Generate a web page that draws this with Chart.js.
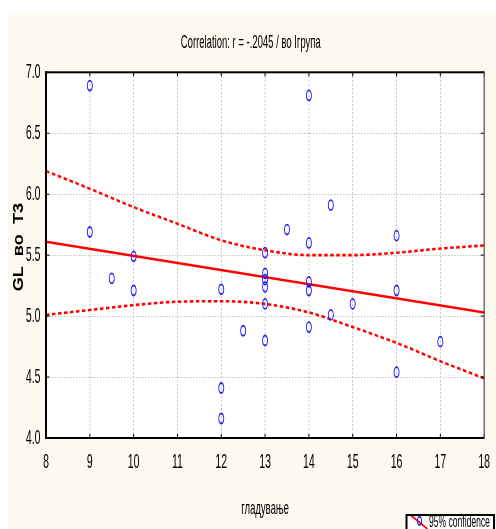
<!DOCTYPE html>
<html>
<head>
<meta charset="utf-8">
<script src="https://cdn.jsdelivr.net/npm/chart.js@4.4.1/dist/chart.umd.min.js"></script>
<style>
  html, body { margin: 0; padding: 0; background: #fff; }
</style>
</head>
<body>
<!-- drawn twice as wide, then squeezed to the page width -->
<canvas id="corrChart" width="992" height="529" style="display:block;width:496px;height:529px"></canvas>
<script>
// гладување (x) against GL во T3 (y), first group
const fastX = [9, 9, 9.5, 10, 10, 12, 12, 12, 12.5, 13, 13, 13, 13, 13, 13, 13.5, 14, 14, 14, 14, 14, 14.5, 14.5, 15, 16, 16, 16, 17];
const glY   = [6.89, 5.69, 5.31, 5.49, 5.21, 5.22, 4.41, 4.16, 4.88, 5.52, 5.35, 5.30, 5.24, 5.10, 4.80, 5.71, 6.81, 5.60, 5.28, 5.21, 4.91, 5.91, 5.01, 5.10, 5.66, 5.21, 4.54, 4.79];

// regression line end points
const fitX = [8, 18];
const fitY = [5.61, 5.03];

// 95% confidence band
const bandX     = [8, 9, 10, 11, 12, 13, 14, 15, 16, 17, 18];
const bandUpper = [6.19, 6.045, 5.894, 5.758, 5.622, 5.54, 5.50, 5.50, 5.52, 5.554, 5.58];
const bandLower = [5.01, 5.05, 5.09, 5.118, 5.122, 5.10, 5.03, 4.91, 4.78, 4.63, 4.49];

const xTicks = [8, 9, 10, 11, 12, 13, 14, 15, 16, 17, 18];
const yTicks = [4.0, 4.5, 5.0, 5.5, 6.0, 6.5, 7.0];

const chartTitle = 'Correlation: r = -.2045 / во Iгрупа';
const xTitle = 'гладување';
const yTitle = 'GL  во  T3';
const legendLabel = '95% confidence';

const FONT = '"Liberation Sans", Arial, sans-serif';
const BLUE = 'rgb(28,28,245)';
const RED = '#ff0000';

Chart.defaults.font.family = FONT;
Chart.defaults.color = '#000';

const toXY = (xs, ys) => xs.map((x, i) => ({x: x, y: ys[i]}));

// cream page, white plot area, frame, inward ticks, rotated y title, legend box
const statFrame = {
  id: 'statFrame',
  beforeDraw(chart) {
    const {ctx, chartArea: a} = chart;
    ctx.save();
    ctx.fillStyle = '#fdf9ee';
    ctx.fillRect(16, 13, chart.width - 16, chart.height - 13);
    ctx.fillStyle = '#fff';
    ctx.fillRect(a.left, a.top, a.right - a.left, a.bottom - a.top);
    ctx.restore();
  },
  afterDatasetsDraw(chart) {
    const {ctx, chartArea: a, scales} = chart;
    ctx.save();
    ctx.fillStyle = '#000';
    scales.x.ticks.forEach(t => {
      const px = scales.x.getPixelForValue(t.value);
      ctx.fillRect(px - 1, a.bottom - 4, 2, 4);
      ctx.fillRect(px - 1, a.top, 2, 4);
    });
    scales.y.ticks.forEach(t => {
      const py = scales.y.getPixelForValue(t.value);
      ctx.fillRect(a.left, py - 0.5, 7, 1);
      ctx.fillRect(a.right - 7, py - 0.5, 7, 1);
    });
    ctx.fillRect(a.left - 2, a.top - 1, a.right - a.left + 2, 2);
    ctx.fillRect(a.left - 2, a.bottom - 1, a.right - a.left + 2, 2);
    ctx.fillRect(a.left - 2, a.top - 1, 4, a.bottom - a.top + 2);
    ctx.fillStyle = '#333';
    ctx.fillRect(a.right - 1, a.top - 1, 2, a.bottom - a.top + 2);
    ctx.restore();
  },
  afterDraw(chart) {
    const {ctx, chartArea: a} = chart;
    // y title, narrow bold
    ctx.save();
    ctx.translate(38, (a.top + a.bottom) / 2 - 8);
    ctx.rotate(-Math.PI / 2);
    ctx.scale(0.625, 1);
    ctx.font = 'bold 29px ' + FONT;
    ctx.textAlign = 'center';
    ctx.textBaseline = 'middle';
    ctx.fillStyle = '#000';
    ctx.fillText(yTitle, 0, 0);
    ctx.restore();

    // legend box in the bottom right corner
    const bx = 811, by = 514, bw = 179, bh = 20;
    ctx.save();
    ctx.fillStyle = '#fff';
    ctx.fillRect(bx, by, bw, bh);
    ctx.strokeStyle = RED;
    ctx.lineWidth = 2;
    ctx.beginPath();
    ctx.moveTo(bx + 10, by + 1);
    ctx.lineTo(bx + 44, by + 15);
    ctx.stroke();
    ctx.strokeStyle = BLUE;
    ctx.lineWidth = 1.8;
    ctx.beginPath();
    ctx.arc(bx + 28, by + 7, 4.2, 0, Math.PI * 2);
    ctx.stroke();
    ctx.fillStyle = '#000';
    ctx.translate(bx + 47, by + 12.5);
    ctx.scale(1.07, 1);
    ctx.font = '16px ' + FONT;
    ctx.textBaseline = 'alphabetic';
    ctx.fillText(legendLabel, 0, 0);
    ctx.setTransform(1, 0, 0, 1, 0, 0);
    ctx.fillRect(bx, by, bw, 2);
    ctx.fillRect(bx, by, 4, bh);
    ctx.fillRect(bx + bw - 4, by, 4, bh);
    ctx.restore();
  }
};

new Chart(document.getElementById('corrChart'), {
  type: 'scatter',
  data: {
    datasets: [
      {
        label: 'GL во T3',
        data: toXY(fastX, glY),
        showLine: false,
        pointStyle: 'circle',
        pointRadius: 5,
        pointBorderWidth: 1.8,
        borderColor: BLUE,
        backgroundColor: 'rgba(0,0,0,0)'
      },
      {
        label: 'regression',
        data: toXY(fitX, fitY),
        showLine: true,
        pointRadius: 0,
        borderColor: RED,
        borderWidth: 2.6
      },
      {
        label: legendLabel,
        data: toXY(bandX, bandUpper),
        showLine: true,
        pointRadius: 0,
        borderColor: RED,
        borderWidth: 2.6,
        borderDash: [7, 5],
        cubicInterpolationMode: 'monotone'
      },
      {
        label: legendLabel,
        data: toXY(bandX, bandLower),
        showLine: true,
        pointRadius: 0,
        borderColor: RED,
        borderWidth: 2.6,
        borderDash: [7, 5],
        cubicInterpolationMode: 'monotone'
      }
    ]
  },
  options: {
    responsive: false,
    devicePixelRatio: 1,
    animation: false,
    events: [],
    layout: { padding: { left: 30, right: 19, top: 0, bottom: 0 } },
    plugins: {
      legend: { display: false },
      tooltip: { enabled: false },
      title: {
        display: true,
        text: chartTitle,
        color: '#000',
        font: { size: 19, weight: 'normal' },
        padding: { top: 31.7, bottom: 17.8 }
      }
    },
    scales: {
      x: {
        type: 'linear',
        min: 8,
        max: 18,
        afterBuildTicks: s => { s.ticks = xTicks.map(v => ({value: v})); },
        afterFit: s => { s.height = 91; },
        ticks: { padding: 12, font: { size: 21 }, color: '#000' },
        grid: { color: '#c4c4c4', lineWidth: 2, drawTicks: false },
        border: { display: false, dash: [2, 2] },
        title: {
          display: true,
          text: xTitle,
          color: '#000',
          font: { size: 19 },
          padding: { top: 0, bottom: 9 }
        }
      },
      y: {
        type: 'linear',
        min: 4,
        max: 7,
        afterBuildTicks: s => { s.ticks = yTicks.map(v => ({value: v})); },
        afterFit: s => { s.width = 62; },
        ticks: { padding: 11, font: { size: 21 }, color: '#000', callback: v => v.toFixed(1) },
        grid: { color: '#c4c4c4', lineWidth: 1, drawTicks: false },
        border: { display: false, dash: [3, 3] }
      }
    }
  },
  plugins: [statFrame]
});
</script>
</body>
</html>
